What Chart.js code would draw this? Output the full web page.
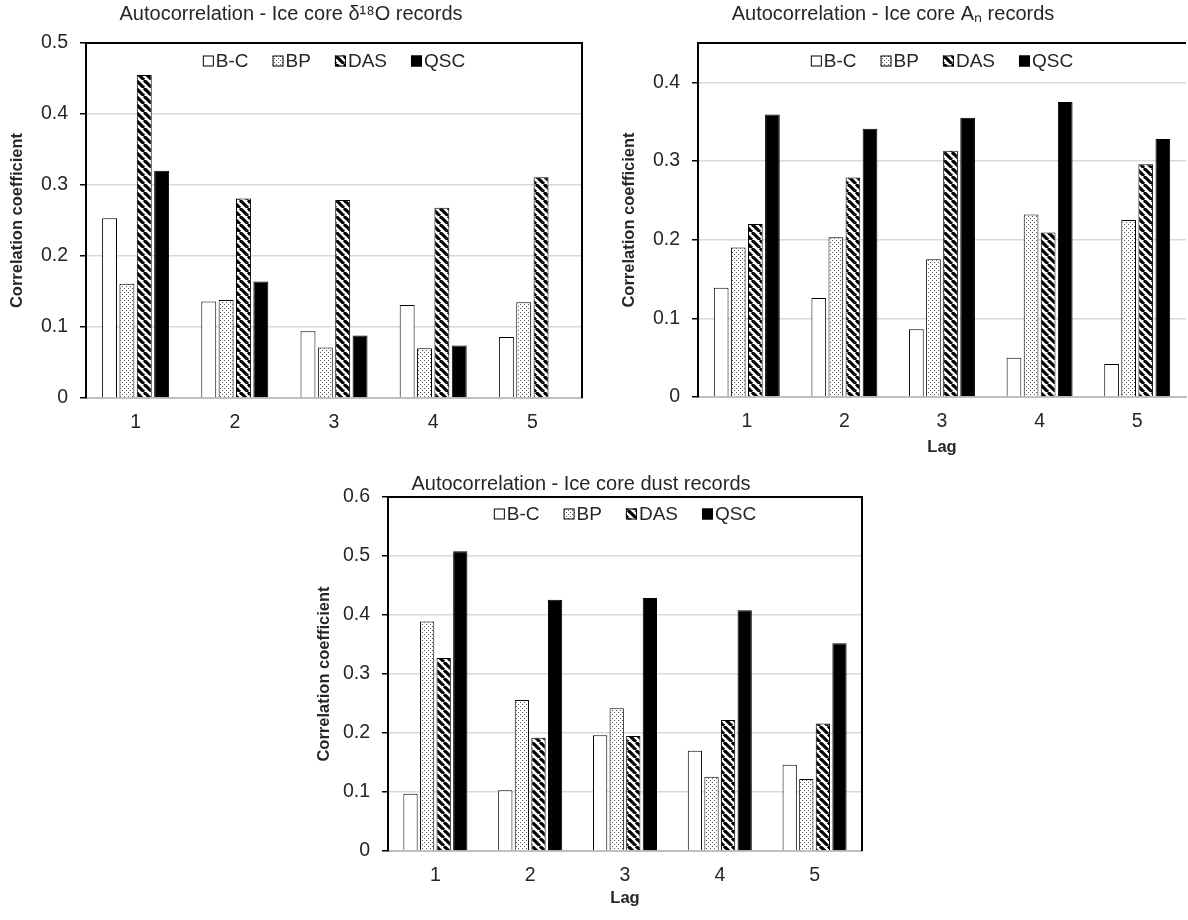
<!DOCTYPE html>
<html>
<head>
<meta charset="utf-8">
<script src="https://cdn.jsdelivr.net/npm/chart.js@4"></script>
<style>
  body { margin: 0; background: #fff; }
  .box { position: absolute; }
</style>
</head>
<body>
<div class="box" style="left:0;top:0"><canvas id="c1" width="600" height="440"></canvas></div>
<div class="box" style="left:600px;top:0"><canvas id="c2" width="588" height="460"></canvas></div>
<div class="box" style="left:300px;top:470px"><canvas id="c3" width="580" height="450"></canvas></div>
<script>
// categories and series
const lags = ['1', '2', '3', '4', '5'];
const seriesNames = ['B-C', 'BP', 'DAS', 'QSC'];

// delta 18O records
const d18oBC = [0.253, 0.136, 0.094, 0.131, 0.086];
const d18oBP = [0.161, 0.138, 0.071, 0.070, 0.135];
const d18oDAS = [0.455, 0.281, 0.279, 0.268, 0.311];
const d18oQSC = [0.320, 0.164, 0.088, 0.074, null];

// An records
const anBC = [0.139, 0.126, 0.086, 0.050, 0.042];
const anBP = [0.190, 0.203, 0.175, 0.232, 0.225];
const anDAS = [0.220, 0.279, 0.313, 0.209, 0.296];
const anQSC = [0.359, 0.341, 0.355, 0.375, 0.328];

// dust records
const dustBC = [0.097, 0.103, 0.196, 0.170, 0.146];
const dustBP = [0.389, 0.256, 0.242, 0.126, 0.122];
const dustDAS = [0.327, 0.192, 0.195, 0.222, 0.216];
const dustQSC = [0.508, 0.426, 0.429, 0.408, 0.352];

const FONT = '"Liberation Sans", Arial, sans-serif';
const TXT = '#262626';

// fill patterns
function dotPattern() {
    const c = document.createElement('canvas');
    c.width = 4; c.height = 4;
    const g = c.getContext('2d');
    g.fillStyle = '#fff';
    g.fillRect(0, 0, 4, 4);
    g.fillStyle = '#555';
    g.fillRect(0, 0, 1, 1);
    g.fillRect(2, 2, 1, 1);
    return g.createPattern(c, 'repeat');
}

function stripePattern() {
    const c = document.createElement('canvas');
    c.width = 8; c.height = 8;
    const g = c.getContext('2d');
    g.fillStyle = '#fff';
    g.fillRect(0, 0, 8, 8);
    g.strokeStyle = '#000';
    g.lineWidth = 3.2;
    [-8, 0, 8].forEach(off => {
        g.beginPath();
        g.moveTo(off, 0);
        g.lineTo(off + 8, 8);
        g.stroke();
    });
    return g.createPattern(c, 'repeat');
}

const fills = ['#fff', dotPattern(), stripePattern(), '#000'];

// legend drawn inside the plot, under the top border
const insideLegend = {
    id: 'insideLegend',
    afterDraw(chart) {
        const {ctx, chartArea} = chart;
        const box = 11, gap = 2, space = 24;
        ctx.save();
        ctx.font = '19px ' + FONT;
        const items = chart.data.datasets.map(ds => ({
            label: ds.label,
            fill: ds.backgroundColor,
            w: box + gap + ctx.measureText(ds.label).width
        }));
        const total = items.reduce((s, it) => s + it.w, 0) + space * (items.length - 1);
        let x = (chartArea.left + chartArea.right) / 2 - total / 2;
        const y = chartArea.top + chart.options.plugins.insideLegend.offset;
        items.forEach(it => {
            ctx.fillStyle = it.fill;
            ctx.fillRect(x, y - box / 2, box, box);
            ctx.strokeStyle = '#000';
            ctx.lineWidth = 1;
            ctx.strokeRect(x + 0.5, y - box / 2 + 0.5, box - 1, box - 1);
            ctx.fillStyle = TXT;
            ctx.textBaseline = 'middle';
            ctx.fillText(it.label, x + box + gap, y + 1);
            x += it.w + space;
        });
        ctx.restore();
    }
};

// top and right plot border
const plotFrame = {
    id: 'plotFrame',
    afterDraw(chart) {
        const {ctx, chartArea} = chart;
        ctx.save();
        ctx.strokeStyle = '#000';
        ctx.lineWidth = 2;
        ctx.beginPath();
        ctx.moveTo(chartArea.left, chartArea.top);
        ctx.lineTo(chartArea.right, chartArea.top);
        if (chart.options.plugins.plotFrame.right) {
            ctx.lineTo(chartArea.right, chartArea.bottom);
        }
        ctx.stroke();
        ctx.restore();
    }
};

function makeChart(id, title, values, cfg) {
    const datasets = values.map((v, i) => ({
        label: seriesNames[i],
        data: v,
        backgroundColor: fills[i],
        borderColor: '#000',
        borderWidth: 1,
        categoryPercentage: 0.7,
        barPercentage: 0.86
    }));

    new Chart(document.getElementById(id), {
        type: 'bar',
        data: { labels: lags, datasets: datasets },
        options: {
            responsive: false,
            animation: false,
            layout: { padding: cfg.padding },
            plugins: {
                legend: { display: false },
                tooltip: { enabled: false },
                title: {
                    display: true,
                    text: title,
                    color: TXT,
                    font: { family: FONT, size: 20, weight: 'normal', lineHeight: 1.15 },
                    padding: cfg.titlePad
                },
                insideLegend: { offset: cfg.legendOffset },
                plotFrame: { right: cfg.frameRight }
            },
            scales: {
                x: {
                    afterFit: s => { s.height = cfg.xHeight; },
                    grid: { display: false, drawTicks: false, tickLength: 0 },
                    border: { color: '#bfbfbf', width: 2 },
                    ticks: { color: TXT, font: { family: FONT, size: 19.5 }, padding: 13 },
                    title: {
                        display: cfg.xTitle,
                        text: 'Lag',
                        color: TXT,
                        font: { family: FONT, size: 16.5, weight: 'bold' },
                        padding: cfg.xTitlePad
                    }
                },
                y: {
                    min: 0,
                    max: cfg.max,
                    afterFit: s => { s.width = cfg.yWidth; },
                    grid: {
                        color: c => (c.tick.value === 0 || c.tick.value >= cfg.max - 1e-9) ? 'rgba(0,0,0,0)' : '#d9d9d9',
                        lineWidth: 1.5,
                        tickColor: '#000',
                        tickLength: 6,
                        tickWidth: 1.5
                    },
                    border: { color: '#000', width: 2 },
                    ticks: {
                        stepSize: 0.1,
                        includeBounds: false,
                        color: TXT,
                        padding: 12,
                        font: { family: FONT, size: 19.5 },
                        callback: v => v === 0 ? '0' : v.toFixed(1)
                    },
                    title: {
                        display: true,
                        text: 'Correlation coefficient',
                        color: TXT,
                        font: { family: FONT, size: 16.5, weight: 'bold' },
                        padding: cfg.yTitlePad
                    }
                }
            }
        },
        plugins: [insideLegend, plotFrame]
    });
}

makeChart('c1', 'Autocorrelation - Ice core \u03b4\u00b9\u2078O records',
    [d18oBC, d18oBP, d18oDAS, d18oQSC], {
        max: 0.5, padding: { left: 0, right: 18, top: 0, bottom: 0 },
        titlePad: { top: 3, bottom: 17 }, legendOffset: 18,
        xHeight: 42, xTitle: false, xTitlePad: 0,
        yWidth: 86, yTitlePad: 8, frameRight: true
    });

makeChart('c2', 'Autocorrelation - Ice core A\u2099 records',
    [anBC, anBP, anDAS, anQSC], {
        max: 0.45, padding: { left: 0, right: 2, top: 0, bottom: 0 },
        titlePad: { top: 3, bottom: 17 }, legendOffset: 18,
        xHeight: 63, xTitle: true, xTitlePad: 3,
        yWidth: 98, yTitlePad: 20, frameRight: false
    });

makeChart('c3', 'Autocorrelation - Ice core dust records',
    [dustBC, dustBP, dustDAS, dustQSC], {
        max: 0.6, padding: { left: 0, right: 18, top: 0, bottom: 0 },
        titlePad: { top: 3, bottom: 1 }, legendOffset: 17,
        xHeight: 69, xTitle: true, xTitlePad: 12,
        yWidth: 88, yTitlePad: 15, frameRight: true
    });
</script>
</body>
</html>
